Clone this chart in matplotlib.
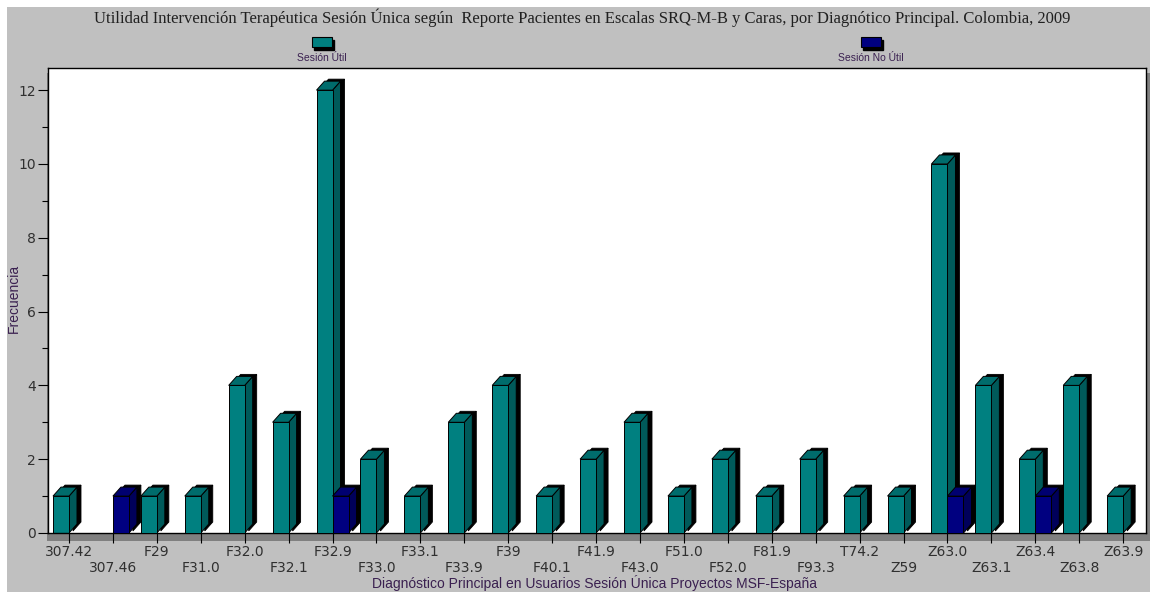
import matplotlib
matplotlib.use("Agg")
import matplotlib.pyplot as plt
from matplotlib.patches import Polygon, Rectangle
from matplotlib.ticker import MultipleLocator

# Diagnósticos y frecuencias por utilidad de la sesión
diagnosticos = ["307.42", "307.46", "F29", "F31.0", "F32.0", "F32.1", "F32.9", "F33.0",
                "F33.1", "F33.9", "F39", "F40.1", "F41.9", "F43.0", "F51.0", "F52.0",
                "F81.9", "F93.3", "T74.2", "Z59", "Z63.0", "Z63.1", "Z63.4", "Z63.8", "Z63.9"]
sesion_util = [1, 0, 1, 1, 4, 3, 12, 2, 1, 3, 4, 1, 2, 3, 1, 2, 1, 2, 1, 1, 10, 4, 2, 4, 1]
sesion_no_util = [0, 1, 0, 0, 0, 0, 1, 0, 0, 0, 0, 0, 0, 0, 0, 0, 0, 0, 0, 0, 1, 0, 1, 0, 0]

titulo = ("Utilidad Intervención Terapéutica Sesión Única según  Reporte Pacientes en Escalas "
          "SRQ-M-B y Caras, por Diagnótico Principal. Colombia, 2009")
series = ["Sesión Útil", "Sesión No Útil"]
# front, top, side
colores = [("#008080", "#006c6c", "#005a5a"), ("#000080", "#000070", "#00005a")]

W, H = 1150, 592
fig = plt.figure(figsize=(W / 100, H / 100), dpi=100, facecolor="white")

# background layer in pixel coordinates
bg = fig.add_axes([0, 0, 1, 1], zorder=0)
bg.set_xlim(0, W)
bg.set_ylim(H, 0)
bg.axis("off")
bg.add_patch(Rectangle((7, 7), W - 7, H - 7, facecolor="#c0c0c0", edgecolor="none"))
bg.add_patch(Rectangle((47, 73), W - 47, 541 - 73, facecolor="#808080", edgecolor="none"))

left, right, top, bottom = 48, 1146, 68, 533
ax = fig.add_axes([left / W, 1 - bottom / H, (right - left) / W, (bottom - top) / H], zorder=1)
ax.set_facecolor("white")
ax.set_xlim(-0.478, 24.52)
ax.set_ylim(0, 12.6)

# pixel sizes -> data units
px_x = (right - left) / (24.52 + 0.478)
px_y = (bottom - top) / 12.6
ancho = 16 / px_x
dx, dy = 8 / px_x, 9 / px_y
sx, sy = 4 / px_x, 2 / px_y


def barra3d(x0, v, cols, z):
    f, t, s = cols
    x1 = x0 + ancho
    lado = [(x1, 0), (x1 + dx, dy), (x1 + dx, v + dy), (x1, v)]
    tapa = [(x0, v), (x0 + dx, v + dy), (x1 + dx, v + dy), (x1, v)]
    for pts in (lado, tapa):
        ax.add_patch(Polygon([(a + sx, b + sy) for a, b in pts], closed=True,
                             facecolor="black", edgecolor="black", lw=0.6, zorder=z))
    ax.add_patch(Polygon(lado, closed=True, facecolor=s, edgecolor="black", lw=0.7, zorder=z + 0.1))
    ax.add_patch(Polygon(tapa, closed=True, facecolor=t, edgecolor="black", lw=0.7, zorder=z + 0.1))
    ax.add_patch(Rectangle((x0, 0), ancho, v, facecolor=f, edgecolor="black", lw=0.7, zorder=z + 0.2))


z = 2
for i, (u, n) in enumerate(zip(sesion_util, sesion_no_util)):
    if u:
        barra3d(i - ancho, u, colores[0], z)
    z += 1
    if n:
        barra3d(i, n, colores[1], z)
    z += 1

for sp in ax.spines.values():
    sp.set_color("black")
    sp.set_linewidth(1)

etiquetas = [d if i % 2 == 0 else "\n" + d for i, d in enumerate(diagnosticos)]
ax.set_xticks(range(len(diagnosticos)), etiquetas)
ax.yaxis.set_major_locator(MultipleLocator(2))
ax.yaxis.set_minor_locator(MultipleLocator(1))
ax.tick_params(axis="x", length=7.5, width=0.8, pad=1, labelsize=10, labelcolor="#303030")
ax.tick_params(axis="y", which="major", length=7, width=0.8, pad=1.5, labelsize=10, labelcolor="#303030")
ax.tick_params(axis="y", which="minor", length=4.5, width=0.8)

fig.text(582 / W, 1 - 18 / H, titulo, ha="center", va="center",
         family="Liberation Serif", fontsize=12, color="#202020")
fig.text(595 / W, 1 - 583 / H, "Diagnóstico Principal en Usuarios Sesión Única Proyectos MSF-España",
         ha="center", va="center", family="Liberation Sans", fontsize=10, color="#3a2050")
fig.text(14 / W, 1 - 298 / H, "Frecuencia", rotation=90, ha="center", va="center",
         family="Liberation Sans", fontsize=10, color="#3a2050")

# legend boxes
for cx, nombre, (f, t, s) in zip([322, 871], series, colores):
    bg.add_patch(Rectangle((cx - 10 + 2, 38 + 2), 20, 10, facecolor="black", edgecolor="black"))
    bg.add_patch(Rectangle((cx - 10, 37), 20, 10, facecolor=f, edgecolor="black", lw=0.8))
    bg.text(cx, 58, nombre, ha="center", va="center", family="Liberation Sans",
            fontsize=7.5, color="#3a2050")

fig.savefig("out.png", dpi=100, facecolor=fig.get_facecolor())
